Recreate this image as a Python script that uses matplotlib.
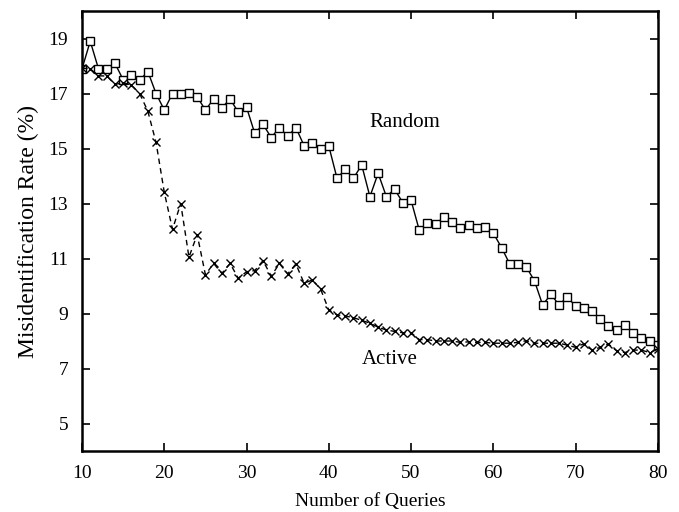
import matplotlib
matplotlib.use('Agg')
import matplotlib.pyplot as plt
import numpy as np

plt.rcParams['font.family'] = ['Liberation Serif', 'DejaVu Serif']

queries = np.arange(10, 81)

random_rate = [17.9, 18.9, 17.9, 17.9, 18.1, 17.5, 17.67, 17.48, 17.8, 17.0,
               16.4, 17.0, 17.0, 17.03, 16.88, 16.4, 16.8, 16.48, 16.8, 16.32,
               16.5, 15.55, 15.88, 15.4, 15.76, 15.45, 15.76, 15.1, 15.21, 15.0,
               15.09, 13.92, 14.24, 13.92, 14.4, 13.25, 14.1, 13.25, 13.52, 13.03,
               13.12, 12.03, 12.3, 12.24, 12.52, 12.31, 12.12, 12.22, 12.12, 12.15,
               11.92, 11.4, 10.8, 10.8, 10.7, 10.19, 9.31, 9.7, 9.31, 9.61,
               9.26, 9.21, 9.09, 8.8, 8.55, 8.4, 8.6, 8.3, 8.1, 8.0,
               7.85]

active_rate = [17.92, 17.9, 17.64, 17.64, 17.33, 17.39, 17.31, 17.0, 16.36, 15.22,
               13.41, 12.06, 13.0, 11.05, 11.87, 10.41, 10.82, 10.46, 10.82, 10.28,
               10.52, 10.56, 10.92, 10.36, 10.82, 10.44, 10.8, 10.1, 10.22, 9.89,
               9.13, 8.95, 8.91, 8.85, 8.75, 8.65, 8.5, 8.4, 8.35, 8.3,
               8.3, 8.05, 8.05, 8.0, 8.0, 8.0, 7.95, 7.97, 7.95, 7.95,
               7.92, 7.92, 7.92, 7.95, 8.01, 7.92, 7.92, 7.92, 7.92, 7.85,
               7.77, 7.9, 7.67, 7.77, 7.89, 7.64, 7.58, 7.67, 7.67, 7.58,
               7.7]

fig = plt.figure(figsize=(6.79, 5.12), dpi=100)
ax = fig.add_axes([0.1208, 0.1191, 0.848, 0.8594])

ax.plot(queries, random_rate, color='black', lw=1.0, ls='-',
        marker='s', markersize=5.5, mfc='white', mec='black', mew=1.0)
ax.plot(queries, active_rate, color='black', lw=1.0, ls=(0, (4, 3)),
        marker='x', markersize=6, mew=1.0)

ax.text(49.2, 15.96, 'Random', fontsize=15, ha='center', va='center')
ax.text(47.4, 7.31, 'Active', fontsize=15, ha='center', va='center')

ax.set_xlim(10, 80)
ax.set_ylim(4, 20)
ax.set_xticks(np.arange(10, 81, 10))
ax.set_yticks(np.arange(5, 20, 2))
ax.tick_params(direction='in', top=True, right=True, length=6, width=1.2,
               labelsize=14, pad=10)
for s in ax.spines.values():
    s.set_linewidth(1.8)

ax.set_xlabel('Number of Queries', fontsize=14, labelpad=8)
ax.set_ylabel('Misidentification Rate (%)', fontsize=17, labelpad=7)

fig.savefig('out.png', dpi=100)
